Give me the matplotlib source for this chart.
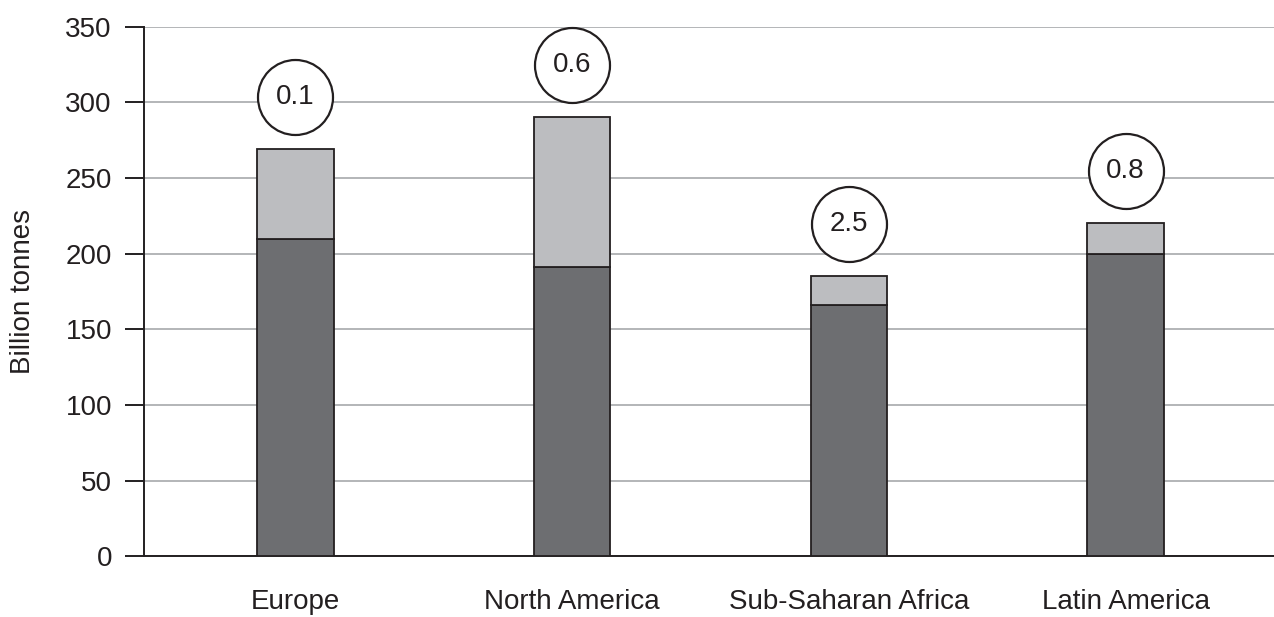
import matplotlib
matplotlib.use("Agg")
import matplotlib.pyplot as plt
from matplotlib import transforms
import numpy as np

regions = ["Europe", "North America", "Sub-Saharan Africa", "Latin America"]
lower = [210, 191, 166, 200]
upper = [59, 99, 19, 20]
circle_labels = ["0.1", "0.6", "2.5", "0.8"]

plt.rcParams['font.family'] = ['Liberation Sans', 'DejaVu Sans']

dark = '#6d6e71'
light = '#bcbdc0'
ink = '#231f20'
fs = 20

fig = plt.figure(figsize=(12.74, 6.17), dpi=100)
ax = fig.add_axes([0.113, 0.0984, 0.887, 0.8583])

x = np.arange(len(regions))
w = 0.276
ax.bar(x, lower, w, color=dark, edgecolor=ink, linewidth=1.3, zorder=3)
ax.bar(x, upper, w, bottom=lower, color=light, edgecolor=ink, linewidth=1.3, zorder=3)

totals = np.array(lower) + np.array(upper)
# circles sit a fixed distance above each bar
trans = transforms.offset_copy(ax.transData, fig=fig, y=52, units='dots')
for xi, t, lab in zip(x, totals, circle_labels):
    ax.plot(xi, t, marker='o', markersize=54, markerfacecolor='white',
            markeredgecolor=ink, markeredgewidth=1.6, transform=trans,
            zorder=4, clip_on=False)
    ax.text(xi, t, lab, transform=trans, ha='center', va='center',
            fontsize=fs, color=ink, zorder=5)

ax.set_xlim(-0.5475, 3.536)
ax.set_ylim(0, 350)
ax.set_yticks(range(0, 351, 50))
ax.set_xticks(x)
ax.set_xticklabels(regions)
ax.tick_params(axis='x', length=0, pad=23.5, labelsize=fs, labelcolor=ink)
ax.tick_params(axis='y', length=13.7, width=1.4, pad=9.4, labelsize=fs,
               color=ink, labelcolor=ink)
ax.yaxis.grid(True, color='#a7a9ac', linewidth=1.2, zorder=0)
ax.set_axisbelow(True)

for s in ['top', 'right']:
    ax.spines[s].set_visible(False)
for s in ['left', 'bottom']:
    ax.spines[s].set_color(ink)
    ax.spines[s].set_linewidth(1.4)

ax.set_ylabel("Billion tonnes", fontsize=fs, color=ink, labelpad=21)

fig.savefig("out.png", dpi=100)
